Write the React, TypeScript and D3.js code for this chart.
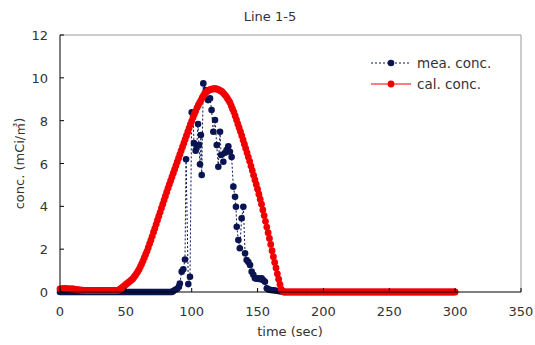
import React from "react";
import * as d3 from "d3";

// ---- data ----
const chartTitle = "Line 1-5";
const xLabel = "time (sec)";
const yLabel = "conc. (mCi/㎥)";
const xTicks = [0, 50, 100, 150, 200, 250, 300, 350];
const yTicks = [0, 2, 4, 6, 8, 10, 12];
const seriesNames = ["mea. conc.", "cal. conc."];

// measured concentration (time in sec, value)
const meaTime = [
  0, 1, 2, 3, 4, 5, 6, 7, 8, 9, 10, 11, 12, 13, 14, 15, 16, 17, 18, 19, 20,
  21, 22, 23, 24, 25, 26, 27, 28, 29, 30, 31, 32, 33, 34, 35, 36, 37, 38, 39,
  40, 41, 42, 43, 44, 45, 46, 47, 48, 49, 50, 51, 52, 53, 54, 55, 56, 57, 58,
  59, 60, 61, 62, 63, 64, 65, 66, 67, 68, 69, 70, 71, 72, 73, 74, 75, 76, 77,
  78, 79, 80, 81, 82, 83, 84, 85, 86, 87.5, 89, 90.3, 91, 92.4, 93.6, 94.9,
  95.7, 97.4, 98.7, 100, 101, 101.7, 103, 103.8, 104.8, 105.5, 106.3, 107,
  107.6, 108.8, 110.8, 112.4, 113.9, 115.1, 116.4, 117.7, 119, 120.2, 121.5,
  122.3, 124, 125.3, 126.5, 127.8, 129, 130.3, 131.6, 132.9, 133.6, 134.2,
  135.4, 136.5, 137.9, 139.2, 140.5, 141.7, 143, 144.3, 145.5, 146.8, 148,
  149.3, 150.6, 151.9, 153.1, 154.4, 155.6, 157, 158.2, 159.5, 161, 162.5,
  164, 165.5, 167, 168.5, 170,
];
const meaConc = [
  0, 0, 0, 0, 0, 0, 0, 0, 0, 0, 0, 0, 0, 0, 0, 0, 0, 0, 0, 0, 0,
  0, 0, 0, 0, 0, 0, 0, 0, 0, 0, 0, 0, 0, 0, 0, 0, 0, 0, 0,
  0, 0, 0, 0, 0, 0, 0, 0, 0, 0, 0, 0, 0, 0, 0, 0, 0, 0, 0,
  0, 0, 0, 0, 0, 0, 0, 0, 0, 0, 0, 0, 0, 0, 0, 0, 0, 0, 0,
  0, 0, 0, 0, 0, 0, 0, 0, 0.05, 0.1, 0.15, 0.25, 0.4, 0.95, 1.06, 1.52,
  6.2, 0.37, 0.71, 8.39, 8.3, 6.95, 6.6, 6.8, 7.84, 6.86, 5.96, 7.33,
  5.46, 9.74, 9.43, 8.96, 9.04, 8.5, 7.48, 8.03, 6.86, 5.85, 7.48,
  6.4, 6.08, 6.5, 6.63, 6.8, 6.55, 6.3, 4.92, 4.45, 3.98, 3.05,
  2.43, 2.04, 3.44, 3.98, 1.81, 1.49, 1.4, 1.26, 0.95, 0.8, 0.64,
  0.62, 0.64, 0.6, 0.64, 0.55, 0.48, 0.17, 0.12, 0.1, 0.08, 0.08,
  0.06, 0.05, 0.03, 0.02, 0,
];

// calculated concentration, one sample per second from t = 0 s to t = 300 s
const calConc = [
  0.15, 0.15, 0.16, 0.16, 0.16, 0.16, 0.15, 0.15, 0.15, 0.14, // 0-9
  0.14, 0.13, 0.12, 0.11, 0.1, 0.1, 0.09, 0.09, 0.08, 0.08, // 10-19
  0.08, 0.07, 0.07, 0.07, 0.07, 0.07, 0.07, 0.07, 0.07, 0.07, // 20-29
  0.07, 0.07, 0.07, 0.07, 0.07, 0.07, 0.07, 0.07, 0.07, 0.07, // 30-39
  0.07, 0.07, 0.07, 0.07, 0.08, 0.11, 0.15, 0.2, 0.25, 0.3, // 40-49
  0.35, 0.4, 0.45, 0.5, 0.55, 0.6, 0.68, 0.76, 0.85, 0.95, // 50-59
  1.05, 1.18, 1.31, 1.45, 1.6, 1.75, 1.9, 2.07, 2.25, 2.42, // 60-69
  2.6, 2.79, 2.97, 3.16, 3.35, 3.54, 3.72, 3.91, 4.1, 4.29, // 70-79
  4.47, 4.66, 4.85, 5.02, 5.2, 5.37, 5.55, 5.72, 5.9, 6.07, // 80-89
  6.25, 6.42, 6.6, 6.77, 6.95, 7.12, 7.3, 7.47, 7.65, 7.82, // 90-99
  7.98, 8.15, 8.3, 8.45, 8.6, 8.72, 8.84, 8.95, 9.07, 9.18, // 100-109
  9.28, 9.34, 9.38, 9.42, 9.45, 9.47, 9.48, 9.49, 9.49, 9.48, // 110-119
  9.46, 9.43, 9.39, 9.35, 9.29, 9.22, 9.15, 9.05, 8.95, 8.85, // 120-129
  8.7, 8.55, 8.4, 8.22, 8.04, 7.85, 7.67, 7.49, 7.3, 7.1, // 130-139
  6.9, 6.7, 6.5, 6.3, 6.1, 5.88, 5.67, 5.45, 5.23, 5.02, // 140-149
  4.8, 4.57, 4.33, 4.1, 3.83, 3.57, 3.3, 3.03, 2.77, 2.5, // 150-159
  2.22, 1.93, 1.65, 1.38, 1.12, 0.85, 0.6, 0.35, 0.12, 0.03, // 160-169
  0, 0, 0, 0, 0, 0, 0, 0, 0, 0, // 170-179
  0, 0, 0, 0, 0, 0, 0, 0, 0, 0, // 180-189
  0, 0, 0, 0, 0, 0, 0, 0, 0, 0, // 190-199
  0, 0, 0, 0, 0, 0, 0, 0, 0, 0, // 200-209
  0, 0, 0, 0, 0, 0, 0, 0, 0, 0, // 210-219
  0, 0, 0, 0, 0, 0, 0, 0, 0, 0, // 220-229
  0, 0, 0, 0, 0, 0, 0, 0, 0, 0, // 230-239
  0, 0, 0, 0, 0, 0, 0, 0, 0, 0, // 240-249
  0, 0, 0, 0, 0, 0, 0, 0, 0, 0, // 250-259
  0, 0, 0, 0, 0, 0, 0, 0, 0, 0, // 260-269
  0, 0, 0, 0, 0, 0, 0, 0, 0, 0, // 270-279
  0, 0, 0, 0, 0, 0, 0, 0, 0, 0, // 280-289
  0, 0, 0, 0, 0, 0, 0, 0, 0, 0, // 290-299
  0, // 300
];

// ---- layout ----
const W = 535;
const H = 345;
const M = { left: 60, right: 521, top: 35, bottom: 292 };
const FONT = "'DejaVu Sans', 'Noto Sans CJK KR', sans-serif";
const TEXT = "#333";
const NAVY = "#0a1450";
const RED = "#f00000";

export default function App() {
  const x = d3.scaleLinear().domain([0, 350]).range([M.left, M.right]);
  const y = d3.scaleLinear().domain([0, 12]).range([M.bottom, M.top]);

  const mea = meaTime.map((t, i) => [t, meaConc[i]] as [number, number]);
  const cal = calConc.map((v, i) => [i, v] as [number, number]);
  const line = d3
    .line<[number, number]>()
    .x((d) => x(d[0]))
    .y((d) => y(d[1]));

  return (
    <svg
      width={W}
      height={H}
      style={{ position: "absolute", left: 0, top: 0, background: "#fff" }}
      fontFamily={FONT}
    >
      <rect x={0} y={0} width={W} height={H} fill="#fff" />
      <text x={270} y={21} textAnchor="middle" fontSize={13} fill={TEXT}>
        {chartTitle}
      </text>

      {/* plot frame */}
      <line x1={M.left} x2={M.right} y1={M.top} y2={M.top} stroke="#999" />
      <line x1={M.right} x2={M.right} y1={M.top} y2={M.bottom} stroke="#999" />

      {/* series */}
      <path d={line(mea) || ""} fill="none" stroke={NAVY} strokeWidth={1} strokeDasharray="2,2" />
      {mea.map((d, i) => (
        <circle key={"m" + i} cx={x(d[0])} cy={y(d[1])} r={3.3} fill={NAVY} />
      ))}
      <path d={line(cal) || ""} fill="none" stroke={RED} strokeWidth={1} />
      {cal.map((d, i) => (
        <circle key={"c" + i} cx={x(d[0])} cy={y(d[1])} r={3.4} fill={RED} />
      ))}

      {/* axes */}
      <line x1={M.left} x2={M.left} y1={M.top} y2={M.bottom} stroke="#000" />
      <line x1={M.left} x2={M.right} y1={M.bottom} y2={M.bottom} stroke="#000" />
      {yTicks.map((t) => (
        <g key={"y" + t}>
          <line x1={M.left} x2={M.left + 4} y1={y(t)} y2={y(t)} stroke="#000" />
          <text x={48} y={y(t) + 5} textAnchor="end" fontSize={13} fill={TEXT}>
            {t}
          </text>
        </g>
      ))}
      {xTicks.map((t) => (
        <g key={"x" + t}>
          <line x1={x(t)} x2={x(t)} y1={M.bottom} y2={M.bottom - 4} stroke="#000" />
          <text x={x(t)} y={316} textAnchor="middle" fontSize={13} fill={TEXT}>
            {t}
          </text>
        </g>
      ))}
      <text x={290} y={336} textAnchor="middle" fontSize={13} fill={TEXT}>
        {xLabel}
      </text>
      <text
        transform={`translate(24,${(M.top + M.bottom) / 2}) rotate(-90)`}
        textAnchor="middle"
        fontSize={13}
        fill={TEXT}
      >
        {yLabel}
      </text>

      {/* legend */}
      <line x1={371} x2={411} y1={63} y2={63} stroke={NAVY} strokeDasharray="2,2" />
      <circle cx={391} cy={63} r={3.3} fill={NAVY} />
      <text x={417} y={68} fontSize={13.5} fill={TEXT}>
        {seriesNames[0]}
      </text>
      <line x1={371} x2={411} y1={84} y2={84} stroke={RED} />
      <circle cx={391} cy={84} r={3.4} fill={RED} />
      <text x={417} y={89} fontSize={13.5} fill={TEXT}>
        {seriesNames[1]}
      </text>
    </svg>
  );
}
